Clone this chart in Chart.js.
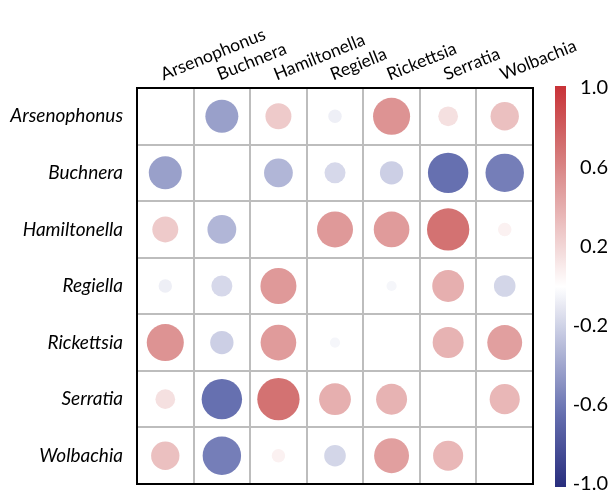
<!DOCTYPE html>
<html>
<head>
<meta charset="utf-8">
<script src="https://cdn.jsdelivr.net/npm/chart.js@4/dist/chart.umd.min.js"></script>
<style>
  html, body { margin: 0; padding: 0; background: #fff; }
  #wrap { width: 612px; height: 496px; }
</style>
</head>
<body>
<div id="wrap"><canvas id="corrChart" width="612" height="496"></canvas></div>
<script>
// taxa, in row/column order
const taxa = ['Arsenophonus', 'Buchnera', 'Hamiltonella', 'Regiella', 'Rickettsia', 'Serratia', 'Wolbachia'];

// correlation rows (diagonal left empty, as in the figure)
const rowArsenophonus = [null, -0.42, 0.26, -0.07, 0.53, 0.15, 0.31];
const rowBuchnera     = [-0.42, null, -0.32, -0.17, -0.21, -0.63, -0.57];
const rowHamiltonella = [0.26, -0.32, null, 0.50, 0.49, 0.69, 0.07];
const rowRegiella     = [-0.07, -0.17, 0.50, null, -0.04, 0.39, -0.18];
const rowRickettsia   = [0.53, -0.21, 0.49, -0.04, null, 0.37, 0.47];
const rowSerratia     = [0.15, -0.63, 0.69, 0.39, 0.37, null, 0.35];
const rowWolbachia    = [0.31, -0.57, 0.07, -0.18, 0.47, 0.35, null];
const corrRows = [rowArsenophonus, rowBuchnera, rowHamiltonella, rowRegiella, rowRickettsia, rowSerratia, rowWolbachia];

// colour bar ticks
const barTicks = [1.0, 0.6, 0.2, -0.2, -0.6, -1.0];

// blue - white - red ramp
const stops = [
  [-1.0, [40, 45, 125]],
  [-0.63, [102, 112, 176]],
  [0.0, [255, 255, 255]],
  [0.69, [211, 114, 114]],
  [1.0, [200, 50, 55]]
];
function corrColor(v) {
  for (let i = 0; i < stops.length - 1; i++) {
    const [a, ca] = stops[i];
    const [b, cb] = stops[i + 1];
    if (v >= a && v <= b) {
      const t = (v - a) / (b - a);
      const c = ca.map((x, k) => Math.round(x + (cb[k] - x) * t));
      return `rgb(${c[0]},${c[1]},${c[2]})`;
    }
  }
  return v < 0 ? 'rgb(40,45,125)' : 'rgb(200,50,55)';
}

const points = [];
corrRows.forEach((row, i) => {
  row.forEach((v, j) => {
    if (v !== null) points.push({ x: taxa[j], y: taxa[i], v });
  });
});

// black frame round the matrix + colour bar strip
const frame = {
  id: 'frame',
  afterDatasetsDraw(chart) {
    const { ctx, chartArea: a } = chart;
    ctx.save();
    ctx.strokeStyle = '#000';
    ctx.lineWidth = 2;
    ctx.strokeRect(a.left, a.top, a.right - a.left, a.bottom - a.top);

    const cb = chart.scales.cb;
    const x0 = a.right + 22, w = 11;
    const top = cb.getPixelForValue(1) - 2, bot = cb.getPixelForValue(-1) + 3;
    const g = ctx.createLinearGradient(0, top, 0, bot);
    for (let k = 0; k <= 40; k++) g.addColorStop(k / 40, corrColor(1 - k / 20));
    ctx.fillStyle = g;
    ctx.fillRect(x0, top, w, bot - top);
    ctx.restore();
  }
};

new Chart(document.getElementById('corrChart'), {
  type: 'scatter',
  data: {
    datasets: [{
      xAxisID: 'x',
      yAxisID: 'y',
      data: points,
      pointBackgroundColor: ctx => corrColor(ctx.raw ? ctx.raw.v : 0),
      pointBorderWidth: 0,
      pointRadius: ctx => {
        if (!ctx.raw) return 0;
        const cell = ctx.chart.scales.x.width / taxa.length;
        return 0.45 * Math.sqrt(Math.abs(ctx.raw.v)) * cell;
      },
      pointHoverRadius: 0
    }]
  },
  options: {
    responsive: false,
    animation: false,
    events: [],
    layout: { padding: { bottom: 0, right: 4 } },
    plugins: { legend: { display: false }, tooltip: { enabled: false } },
    scales: {
      x: {
        type: 'category',
        labels: taxa,
        position: 'top',
        offset: true,
        grid: { offset: true, color: '#bdbdbd', lineWidth: 2, drawTicks: false },
        border: { display: false },
        ticks: {
          autoSkip: false,
          minRotation: 22, maxRotation: 22,
          padding: 3, labelOffset: 4,
          color: '#000',
          font: { family: 'Lato', size: 17.5 }
        },
        afterFit: s => { s.height = 88; }
      },
      y: {
        type: 'category',
        labels: taxa,
        offset: true,
        grid: {
          offset: true, color: '#bdbdbd', lineWidth: 2,
          drawTicks: true, tickLength: 14, tickColor: 'rgba(0,0,0,0)'
        },
        border: { display: false },
        ticks: {
          autoSkip: false,
          padding: 0,
          color: '#000',
          font: { family: 'Lato', size: 19, style: 'italic' }
        },
        afterFit: s => { s.width = 137; }
      },
      cb: {
        type: 'linear',
        position: 'right',
        min: -1, max: 1,
        grid: { display: false, drawTicks: true, tickLength: 38 },
        border: { display: false },
        afterBuildTicks: s => { s.ticks = barTicks.map(value => ({ value })); },
        ticks: {
          padding: 0,
          crossAlign: 'far',
          color: '#000',
          font: { family: 'Lato', size: 20 },
          callback: v => v.toFixed(1)
        },
        afterFit: s => { s.width = 75; }
      }
    }
  },
  plugins: [frame]
});
</script>
</body>
</html>
